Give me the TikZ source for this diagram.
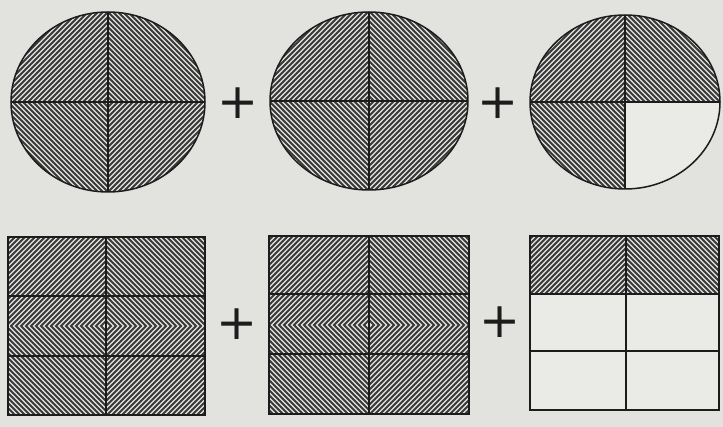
\documentclass[tikz,border=0pt]{standalone}
\usepackage{fontspec}
\newfontfamily\plusfont{DejaVu Sans}
\definecolor{bgc}{RGB}{226,226,223}
\definecolor{whitec}{RGB}{234,234,231}
\definecolor{hatchc}{RGB}{58,58,58}
\definecolor{inkc}{RGB}{28,28,28}
\newcommand\mydiamonds[2]{%
  \foreach \k in {1,...,40}{%
    \draw[hatch] (#1+\k*5,#2) -- (#1,#2+\k*5) -- (#1-\k*5,#2) -- (#1,#2-\k*5) -- cycle;}}
\begin{document}
\begin{tikzpicture}[x=1pt,y=-1pt,
  hatch/.style={line width=1.8pt, draw=hatchc},
  outline/.style={line width=1.5pt, draw=inkc},
  divider/.style={line width=1.4pt, draw=inkc},
  plussign/.style={text=inkc, inner sep=0pt, font=\plusfont\fontsize{49}{49}\selectfont}]
\fill[bgc] (0,0) rectangle (723,427);
\useasboundingbox (0,0) rectangle (723,427);
% circle 1
\begin{scope}
  \clip (108,102) ellipse [x radius=97, y radius=90];
  \mydiamonds{108}{102}
\end{scope}
\draw[outline] (108,102) ellipse [x radius=97, y radius=90];
\draw[divider] (11,102) -- (205,102);
\draw[divider] (108,12) -- (108,192);
% circle 2
\begin{scope}
  \clip (369,101) ellipse [x radius=99, y radius=89];
  \mydiamonds{369}{101}
\end{scope}
\draw[outline] (369,101) ellipse [x radius=99, y radius=89];
\draw[divider] (270,101) -- (468,101);
\draw[divider] (369,12) -- (369,190);
% circle 3
\begin{scope}
  \clip (625,102) ellipse [x radius=95, y radius=87];
  \mydiamonds{625}{102}
  \fill[whitec] (625,102) rectangle (725,200);
\end{scope}
\draw[outline] (625,102) ellipse [x radius=95, y radius=87];
\draw[divider] (530,102) -- (720,102);
\draw[divider] (625,15) -- (625,189);
% square 1
\begin{scope}
  \clip (8,237) rectangle (205,415);
  \mydiamonds{106}{326}
\end{scope}
\draw[outline] (8,237) rectangle (205,415);
\draw[divider] (8,296) -- (205,296);
\draw[divider] (8,356) -- (205,356);
\draw[divider] (106,237) -- (106,415);
% square 2
\begin{scope}
  \clip (269,236) rectangle (469,414);
  \mydiamonds{369}{325}
\end{scope}
\draw[outline] (269,236) rectangle (469,414);
\draw[divider] (269,294) -- (469,294);
\draw[divider] (269,354) -- (469,354);
\draw[divider] (369,236) -- (369,414);
% square 3
\fill[whitec] (530,294) rectangle (719,410);
\begin{scope}
  \clip (530,236) rectangle (719,294);
  \mydiamonds{626}{323}
\end{scope}
\draw[outline] (530,236) rectangle (719,410);
\draw[divider] (530,294) -- (719,294);
\draw[divider] (530,351) -- (719,351);
\draw[divider] (626,236) -- (626,410);
% plus signs
\node[plussign] (p1) at (238,103) {+};
\node[plussign] (p2) at (498,103) {+};
\node[plussign] (p3) at (237,324) {+};
\node[plussign] (p4) at (500,322) {+};
\end{tikzpicture}
\end{document}
